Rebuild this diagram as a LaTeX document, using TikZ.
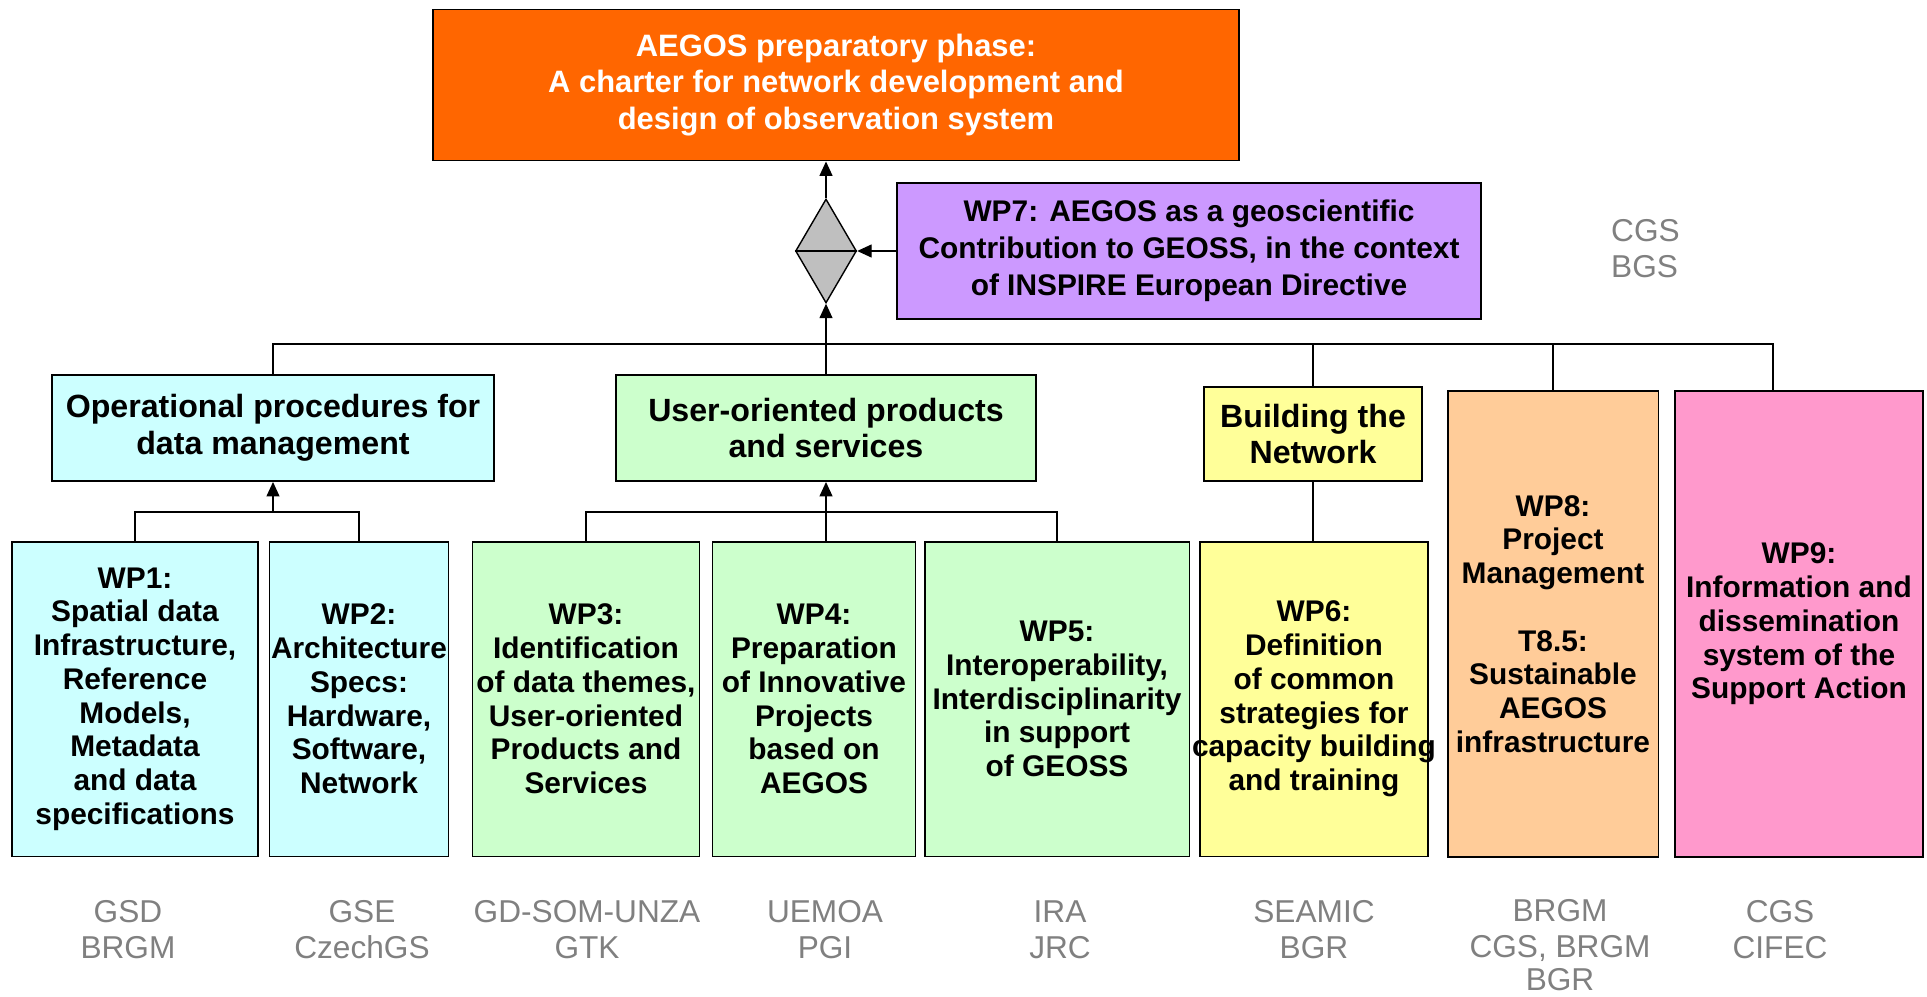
\documentclass[tikz,border=0pt]{standalone}
\usepackage{fontspec}
\setmainfont{Liberation Sans}
\usepackage{tikz}
\usetikzlibrary{arrows.meta, shapes.geometric}
\definecolor{phaseorange}{HTML}{FF6600}
\definecolor{wpviolet}{HTML}{CC99FF}
\definecolor{datacyan}{HTML}{CCFFFF}
\definecolor{usergreen}{HTML}{CCFFCC}
\definecolor{netyellow}{HTML}{FFFF99}
\definecolor{mgmtorange}{HTML}{FFCC99}
\definecolor{infopink}{HTML}{FF99CC}
\definecolor{partnergray}{HTML}{808080}

\begin{document}
\begin{tikzpicture}[x=0.02cm, y=-0.02cm,
  box/.style={draw, line width=1.1pt, align=center, inner sep=0pt,
    font=\fontsize{17}{19.2}\selectfont\bfseries},
  bigbox/.style={box, font=\fontsize{17.6}{20.6}\selectfont\bfseries},
  groupbox/.style={box, font=\fontsize{18.3}{21}\selectfont\bfseries},
  wpcol/.style={box, minimum height=6.3cm},
  partner/.style={text=partnergray, align=center, font=\fontsize{18}{20.5}\selectfont},
  link/.style={line width=0.8pt},
  up/.style={link, -{Triangle[length=2.9mm, width=2.6mm]}}]

  \useasboundingbox (0,0) rectangle (1927,997);

  % top level
  \node[bigbox, fill=phaseorange, text=white, minimum width=16.12cm, minimum height=3.02cm] (phase) at (836,85)
    {AEGOS preparatory phase:\\ A charter for network development and\\ design of observation system};
  \node[diamond, draw, link, fill=gray!50, minimum width=1.22cm, minimum height=2.08cm, inner sep=0pt] (merge) at (826,251) {};
  \node[bigbox, fill=wpviolet, minimum width=11.68cm, minimum height=2.72cm, font=\fontsize{17}{21}\selectfont\bfseries] (wp7) at (1189,251)
    {WP7: AEGOS as a geoscientific\\ Contribution to GEOSS, in the context\\ of INSPIRE European Directive};
  \node[partner, anchor=west, align=left] (wp7p) at (1605,249) {CGS\\ BGS};

  % groups
  \node[groupbox, fill=datacyan, minimum width=8.86cm, minimum height=2.12cm] (datamgmt) at (273,428)
    {Operational procedures for\\ data management};
  \node[groupbox, fill=usergreen, minimum width=8.4cm, minimum height=2.12cm] (userprod) at (826,428)
    {User-oriented products\\ and services};
  \node[groupbox, fill=netyellow, minimum width=4.36cm, minimum height=1.88cm] (network) at (1313,434)
    {Building the\\ Network};

  % work packages
  \node[wpcol, fill=datacyan, minimum width=4.92cm] (wp1) at (135,699)
    {WP1:\\ Spatial data\\ Infrastructure,\\ Reference\\ Models,\\ Metadata\\ and data\\ specifications};
  \node[wpcol, fill=datacyan, minimum width=3.58cm] (wp2) at (359,699)
    {WP2:\\ \makebox[0pt]{Architecture}\\ Specs:\\ Hardware,\\ Software,\\ Network};
  \node[wpcol, fill=usergreen, minimum width=4.54cm] (wp3) at (586,699)
    {WP3:\\ Identification\\ of data themes,\\ User-oriented\\ Products and\\ Services};
  \node[wpcol, fill=usergreen, minimum width=4.06cm] (wp4) at (814,699)
    {WP4:\\ Preparation\\ of Innovative\\ Projects\\ based on\\ AEGOS};
  \node[wpcol, fill=usergreen, minimum width=5.3cm] (wp5) at (1057,699)
    {WP5:\\ Interoperability,\\ Interdisciplinarity\\ in support\\ of GEOSS};
  \node[wpcol, fill=netyellow, minimum width=4.56cm] (wp6) at (1314,699)
    {WP6:\\ Definition\\ of common\\ strategies for\\ \makebox[0pt]{capacity building}\\ and training};
  \node[box, fill=mgmtorange, minimum width=4.22cm, minimum height=9.32cm] (wp8) at (1553,624)
    {WP8:\\ Project\\ Management\\[19.2pt] T8.5:\\ Sustainable\\ AEGOS\\ infrastructure};
  \node[box, fill=infopink, minimum width=4.96cm, minimum height=9.32cm] (wp9) at (1799,624)
    {WP9:\\ Information and\\ dissemination\\ system of the\\ Support Action};

  % partners
  \node[partner] (p1) at (128,930) {GSD\\ BRGM};
  \node[partner] (p2) at (362,930) {GSE\\ CzechGS};
  \node[partner] (p3) at (587,930) {GD-SOM-UNZA\\ GTK};
  \node[partner] (p4) at (825,930) {UEMOA\\ PGI};
  \node[partner] (p5) at (1060,930) {IRA\\ JRC};
  \node[partner] (p6) at (1314,930) {SEAMIC\\ BGR};
  \node[partner, anchor=north] (p8) at (1560,893) {BRGM\\ CGS, BRGM\\[-1.5pt] BGR};
  \node[partner] (p9) at (1780,930) {CGS\\ CIFEC};

  \coordinate (bus) at (0,344);
  \coordinate (sub) at (0,512);
  \coordinate (wp9in) at (1773,391);

  \draw[up] (merge.north) -- (merge.north |- phase.south);
  \draw[up] (wp7.west) -- (merge.east);
  \draw[line width=1.1pt] (merge.west) -- (merge.east);
  \draw[up] (userprod.north) -- (merge.south);
  \draw[link] (datamgmt.north) |- (wp9in |- bus) -- (wp9in);
  \draw[link] (network.north) -- (network.north |- bus);
  \draw[link] (wp8.north) -- (wp8.north |- bus);

  \draw[link] (wp1.north) |- (wp2.north |- sub) -- (wp2.north);
  \draw[up] (datamgmt.south |- sub) -- (datamgmt.south);
  \draw[link] (wp3.north) |- (wp5.north |- sub) -- (wp5.north);
  \draw[up] (userprod.south |- wp4.north) -- (userprod.south);
  \draw[link] (network.south) -- (network.south |- wp6.north);

\end{tikzpicture}
\end{document}
